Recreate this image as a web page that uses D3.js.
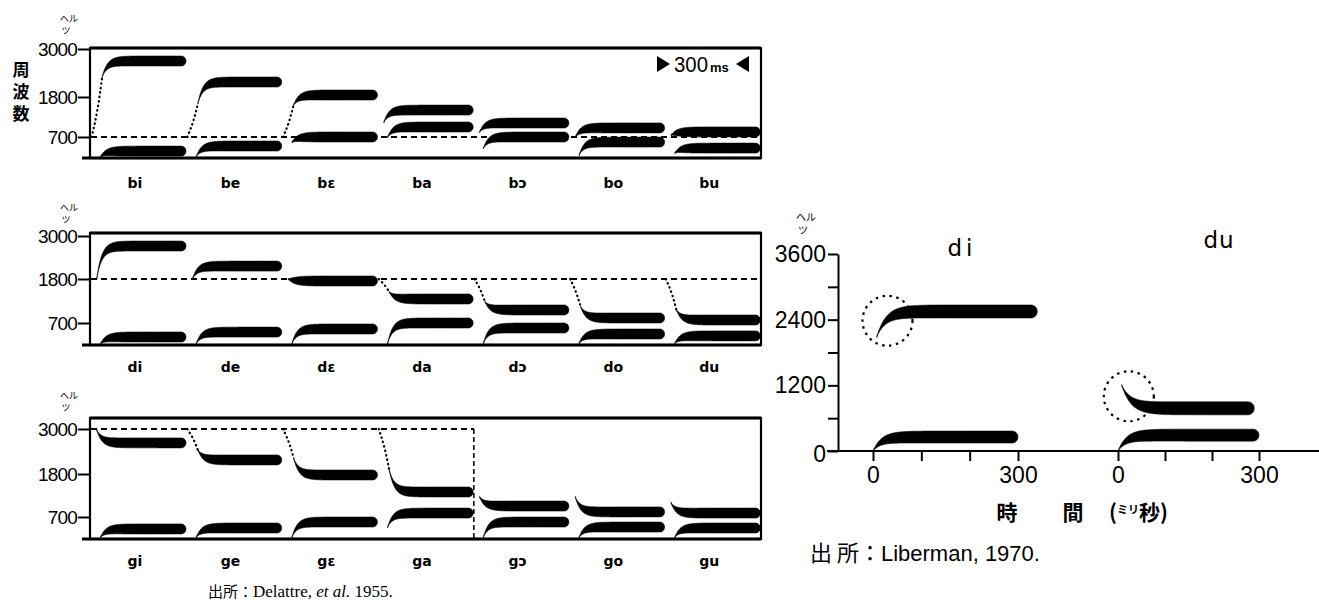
<!DOCTYPE html>
<html>
<head>
<meta charset="utf-8">
<script src="https://cdn.jsdelivr.net/npm/d3@7"></script>
<style>
  body { margin: 0; background: #fff; }
  text { fill: #000; }
</style>
</head>
<body>
<svg id="chart" width="1319" height="604"></svg>
<script>
// ---- data (Hz / ms) ----
const hzTicks = [700, 1800, 3000];

const bSyll = ["bi", "be", "bɛ", "ba", "bɔ", "bo", "bu"];
const bF1Start  = [50, 50, 530, 700, 330, 100, 170];
const bF1Steady = [230, 400, 700, 975, 700, 530, 330];
const bF2Start  = [2300, 1620, 1580, 1110, 840, 700, 755];
const bF2Steady = [2700, 2175, 1850, 1440, 1085, 950, 840];
const bLead = [true, true, true, false, false, false, false];
const bLocus = 700;

const dSyll = ["di", "de", "dɛ", "da", "dɔ", "do", "du"];
const dF1Start  = [50, 50, 50, 60, 60, 60, 60];
const dF1Steady = [255, 410, 510, 700, 540, 350, 290];
const dF2Start  = [1800, 1800, 1800, 1475, 1225, 1100, 1025];
const dF2Steady = [2720, 2160, 1750, 1300, 1025, 825, 775];
const dLead = [false, false, false, true, true, true, true];
const dLocus = 1800;

const gSyll = ["gi", "ge", "gɛ", "ga", "gɔ", "go", "gu"];
const gF1Start  = [60, 60, 60, 380, 60, 60, 60];
const gF1Steady = [320, 350, 540, 800, 540, 380, 350];
const gF2Start  = [2975, 2440, 2230, 1900, 1210, 1210, 1060];
const gF2Steady = [2630, 2175, 1775, 1340, 980, 830, 800];
const gLead = [false, true, true, true, false, false, false];
const gLocus = 3000;
const gLocusEnd = 1200;   // ms, locus line stops after "ga"

// Liberman (1970) panel
const libSyll = ["di", "du"];
const libF1Start  = [0, 0];
const libF1Steady = [255, 290];
const libF1End    = [300, 300];
const libF2Start  = [2090, 1200];
const libF2Steady = [2550, 780];
const libF2End    = [340, 290];
const libCircleT  = [30, 23];
const libCircleHz = [2380, 1000];
const libHzTicks = [0, 600, 1200, 1800, 2400, 3000, 3600];
const libMsTicks = [0, 100, 200, 300];

// ---- layout ----
const svg = d3.select("#chart");
const frameL = 90, frameR = 761;
const slotMs = 300;
const x = d3.scaleLinear().domain([0, 7 * slotMs]).range([91, frameR]);

const panels = [
  {syll: bSyll, f1s: bF1Start, f1: bF1Steady, f2s: bF2Start, f2: bF2Steady, lead: bLead, locus: bLocus, locusEnd: 7 * slotMs,
   top: 48, yRange: [158, 137, 97, 49], labelY: 188, unitY: 22},
  {syll: dSyll, f1s: dF1Start, f1: dF1Steady, f2s: dF2Start, f2: dF2Steady, lead: dLead, locus: dLocus, locusEnd: 7 * slotMs,
   top: 233, yRange: [345, 323, 279, 236], labelY: 372, unitY: 211},
  {syll: gSyll, f1s: gF1Start, f1: gF1Steady, f2s: gF2Start, f2: gF2Steady, lead: gLead, locus: gLocus, locusEnd: gLocusEnd,
   top: 418, yRange: [539, 517, 474, 429], labelY: 566, unitY: 399}
];

// formant band: thin at onset, thickening into the steady state, round end
function drawBand(g, xs, xe, ys, ye, W, k) {
  const L = xe - xs, n = Math.ceil(L * 2), r = W / 2;
  const pts = d3.range(n + 1).map(i => {
    const d = i / n * L;
    const cy = ye + (ys - ye) * Math.exp(-d / k);
    let w = Math.max(1.5, W * (1 - Math.exp(-d / (k * 1.3))));
    if (L - d < r) w *= Math.sqrt(Math.max(0, 1 - ((d - (L - r)) / r) ** 2));
    return [xs + d, cy, w];
  });
  g.append("path").datum(pts)
    .attr("d", d3.area().x(p => p[0]).y0(p => p[1] - p[2] / 2).y1(p => p[1] + p[2] / 2))
    .attr("fill", "#000").attr("stroke", "#000").attr("stroke-width", 0.6);
}

// stacked unit "ヘルツ"
function unitLabel(g, cx, y, size) {
  const t = g.append("text").attr("text-anchor", "middle")
    .style("font", `${size}px 'Noto Sans CJK JP'`);
  t.append("tspan").attr("x", cx).attr("y", y).text("ヘル");
  t.append("tspan").attr("x", cx - 3).attr("y", y + Math.round(size * 1.3)).text("ツ");
}

panels.forEach(p => {
  const g = svg.append("g");
  const bottom = p.yRange[0];
  const y = d3.scaleLinear().domain([0, 700, 1800, 3000]).range(p.yRange);

  // locus line
  g.append("line").attr("x1", x(0)).attr("x2", x(p.locusEnd))
    .attr("y1", y(p.locus)).attr("y2", y(p.locus))
    .attr("stroke", "#000").attr("stroke-width", 1.8).attr("stroke-dasharray", "6,4");
  if (p.locusEnd < 7 * slotMs) {
    g.append("line").attr("x1", x(p.locusEnd)).attr("x2", x(p.locusEnd))
      .attr("y1", y(p.locus)).attr("y2", bottom)
      .attr("stroke", "#000").attr("stroke-width", 1.5).attr("stroke-dasharray", "5,3");
  }

  p.syll.forEach((s, i) => {
    const t = i * slotMs;
    const f2t0 = p.lead[i] ? 35 : 18;
    // dotted lead-in from the locus
    if (p.lead[i]) {
      g.append("path")
        .attr("d", d3.line().curve(d3.curveBasis)([
          [x(t + 2), y(p.locus)],
          [x(t + f2t0 * 0.6), y(p.locus + (p.f2s[i] - p.locus) * 0.45)],
          [x(t + f2t0), y(p.f2s[i])]
        ]))
        .attr("fill", "none").attr("stroke", "#000").attr("stroke-width", 2.2)
        .attr("stroke-linecap", "round").attr("stroke-dasharray", "0.5,4");
    }
    drawBand(g, x(t + f2t0), x(t + 298), y(p.f2s[i]), y(p.f2[i]), 10, 5);
    drawBand(g, x(t + 30), x(t + 298), y(p.f1s[i]), y(p.f1[i]), 10, 5);

    g.append("text").attr("x", x(t + slotMs / 2) - 4).attr("y", p.labelY)
      .attr("text-anchor", "middle")
      .style("font", "bold 14px 'DejaVu Sans'").text(s);
  });

  // frame
  g.append("rect").attr("x", frameL).attr("y", p.top)
    .attr("width", frameR - frameL).attr("height", bottom - p.top)
    .attr("fill", "none").attr("stroke", "#000").attr("stroke-width", 2.2);
  g.append("line").attr("x1", frameL).attr("x2", frameR).attr("y1", p.top).attr("y2", p.top)
    .attr("stroke", "#000").attr("stroke-width", 3);
  g.append("line").attr("x1", 82).attr("x2", frameR).attr("y1", bottom).attr("y2", bottom)
    .attr("stroke", "#000").attr("stroke-width", 3);

  const ax = g.append("g").attr("transform", `translate(${frameL},0)`)
    .call(d3.axisLeft(y).tickValues(hzTicks).tickSize(12).tickPadding(1).tickFormat(d3.format("d")));
  ax.select(".domain").remove();
  ax.selectAll(".tick line").attr("stroke-width", 2);
  ax.selectAll("text").style("font", "19px 'Liberation Sans'").attr("letter-spacing", "-0.8");

  unitLabel(g, 69, p.unitY, 9);
});

// y-axis title of the top panel, set vertically
svg.append("text").attr("x", 21).attr("y", 61)
  .style("writing-mode", "vertical-rl")
  .attr("letter-spacing", "5")
  .style("font", "bold 17px 'Noto Sans CJK JP'")
  .text("周波数");

// 300 ms marker
const mk = svg.append("g");
mk.append("path").attr("d", "M657,56 L670,64 L657,72 Z").attr("fill", "#000");
mk.append("text").attr("x", 674).attr("y", 72).attr("textLength", 34).attr("lengthAdjust", "spacingAndGlyphs")
  .style("font", "22px 'Liberation Sans'").text("300");
mk.append("text").attr("x", 710).attr("y", 72).style("font", "bold 13px 'Liberation Sans'").text("ms");
mk.append("path").attr("d", "M749,56 L736,64 L749,72 Z").attr("fill", "#000");

svg.append("text").attr("x", 208).attr("y", 597)
  .style("font", "17px 'Liberation Serif'")
  .call(t => {
    t.append("tspan").style("font-family", "'Noto Sans CJK JP'").style("font-size", "15px").text("出所：");
    t.append("tspan").text("Delattre,  ");
    t.append("tspan").style("font-style", "italic").text("et al.");
    t.append("tspan").text("  1955.");
  });

// ---- Liberman panel ----
const yLib = d3.scaleLinear().domain([0, 3600]).range([451, 254]);
const xLib = [
  d3.scaleLinear().domain([0, 300]).range([873, 1018]),
  d3.scaleLinear().domain([0, 300]).range([1118, 1259])
];
const lib = svg.append("g");

libSyll.forEach((s, i) => {
  const xs = xLib[i];
  drawBand(lib, xs(0), xs(libF1End[i]), yLib(libF1Start[i]), yLib(libF1Steady[i]), 12, 8);
  drawBand(lib, xs(8), xs(libF2End[i]), yLib(libF2Start[i]), yLib(libF2Steady[i]), 13, 9);
  lib.append("circle").attr("cx", xs(libCircleT[i])).attr("cy", yLib(libCircleHz[i])).attr("r", 25)
    .attr("fill", "none").attr("stroke", "#000").attr("stroke-width", 2.2)
    .attr("stroke-dasharray", "2.5,4.5");
  const ax = lib.append("g").attr("transform", `translate(0,${yLib(0)})`)
    .call(d3.axisBottom(xs).tickValues(libMsTicks).tickSize(10).tickPadding(6)
      .tickFormat(d => d % 300 === 0 ? d : ""));
  ax.select(".domain").remove();
  ax.selectAll(".tick line").attr("stroke-width", 2);
  ax.selectAll("text").style("font", "23px 'Liberation Sans'");
});

lib.append("text").attr("x", 962).attr("y", 256).attr("text-anchor", "middle")
  .attr("letter-spacing", "4").style("font", "23px 'DejaVu Sans'").text(libSyll[0]);
lib.append("text").attr("x", 1219).attr("y", 248).attr("text-anchor", "middle")
  .attr("letter-spacing", "1").style("font", "23px 'DejaVu Sans'").text(libSyll[1]);

lib.append("line").attr("x1", 827).attr("x2", 1319).attr("y1", yLib(0)).attr("y2", yLib(0))
  .attr("stroke", "#000").attr("stroke-width", 2.2);
const yax = lib.append("g").attr("transform", "translate(838,0)")
  .call(d3.axisLeft(yLib).tickValues(libHzTicks).tickSize(10).tickSizeOuter(0).tickPadding(2)
    .tickFormat(d => d % 1200 === 0 ? d : ""));
yax.select(".domain").attr("stroke-width", 2);
yax.selectAll(".tick line").attr("stroke-width", 2);
yax.selectAll("text").style("font", "23px 'Liberation Sans'");
yax.selectAll(".tick").filter(d => d === 0).select("text").attr("dy", "0.45em");

unitLabel(lib, 806, 221, 10);

lib.append("text").attr("x", 1007).attr("y", 520).attr("text-anchor", "middle")
  .style("font", "bold 21px 'Noto Sans CJK JP'").text("時");
lib.append("text").attr("x", 1073).attr("y", 520).attr("text-anchor", "middle")
  .style("font", "bold 21px 'Noto Sans CJK JP'").text("間");
lib.append("text").attr("x", 1109).attr("y", 520)
  .style("font", "bold 21px 'Noto Sans CJK JP'")
  .call(t => {
    t.append("tspan").text("(");
    t.append("tspan").style("font-size", "11px").attr("dy", "-6").text("ミリ");
    t.append("tspan").attr("dy", "6").text("秒)");
  });

lib.append("text").attr("x", 810).attr("y", 561)
  .style("font", "22px 'Liberation Sans'")
  .call(t => {
    t.append("tspan").style("font-family", "'Noto Sans CJK JP'").text("出 所：");
    t.append("tspan").text("Liberman, 1970.");
  });
</script>
</body>
</html>
